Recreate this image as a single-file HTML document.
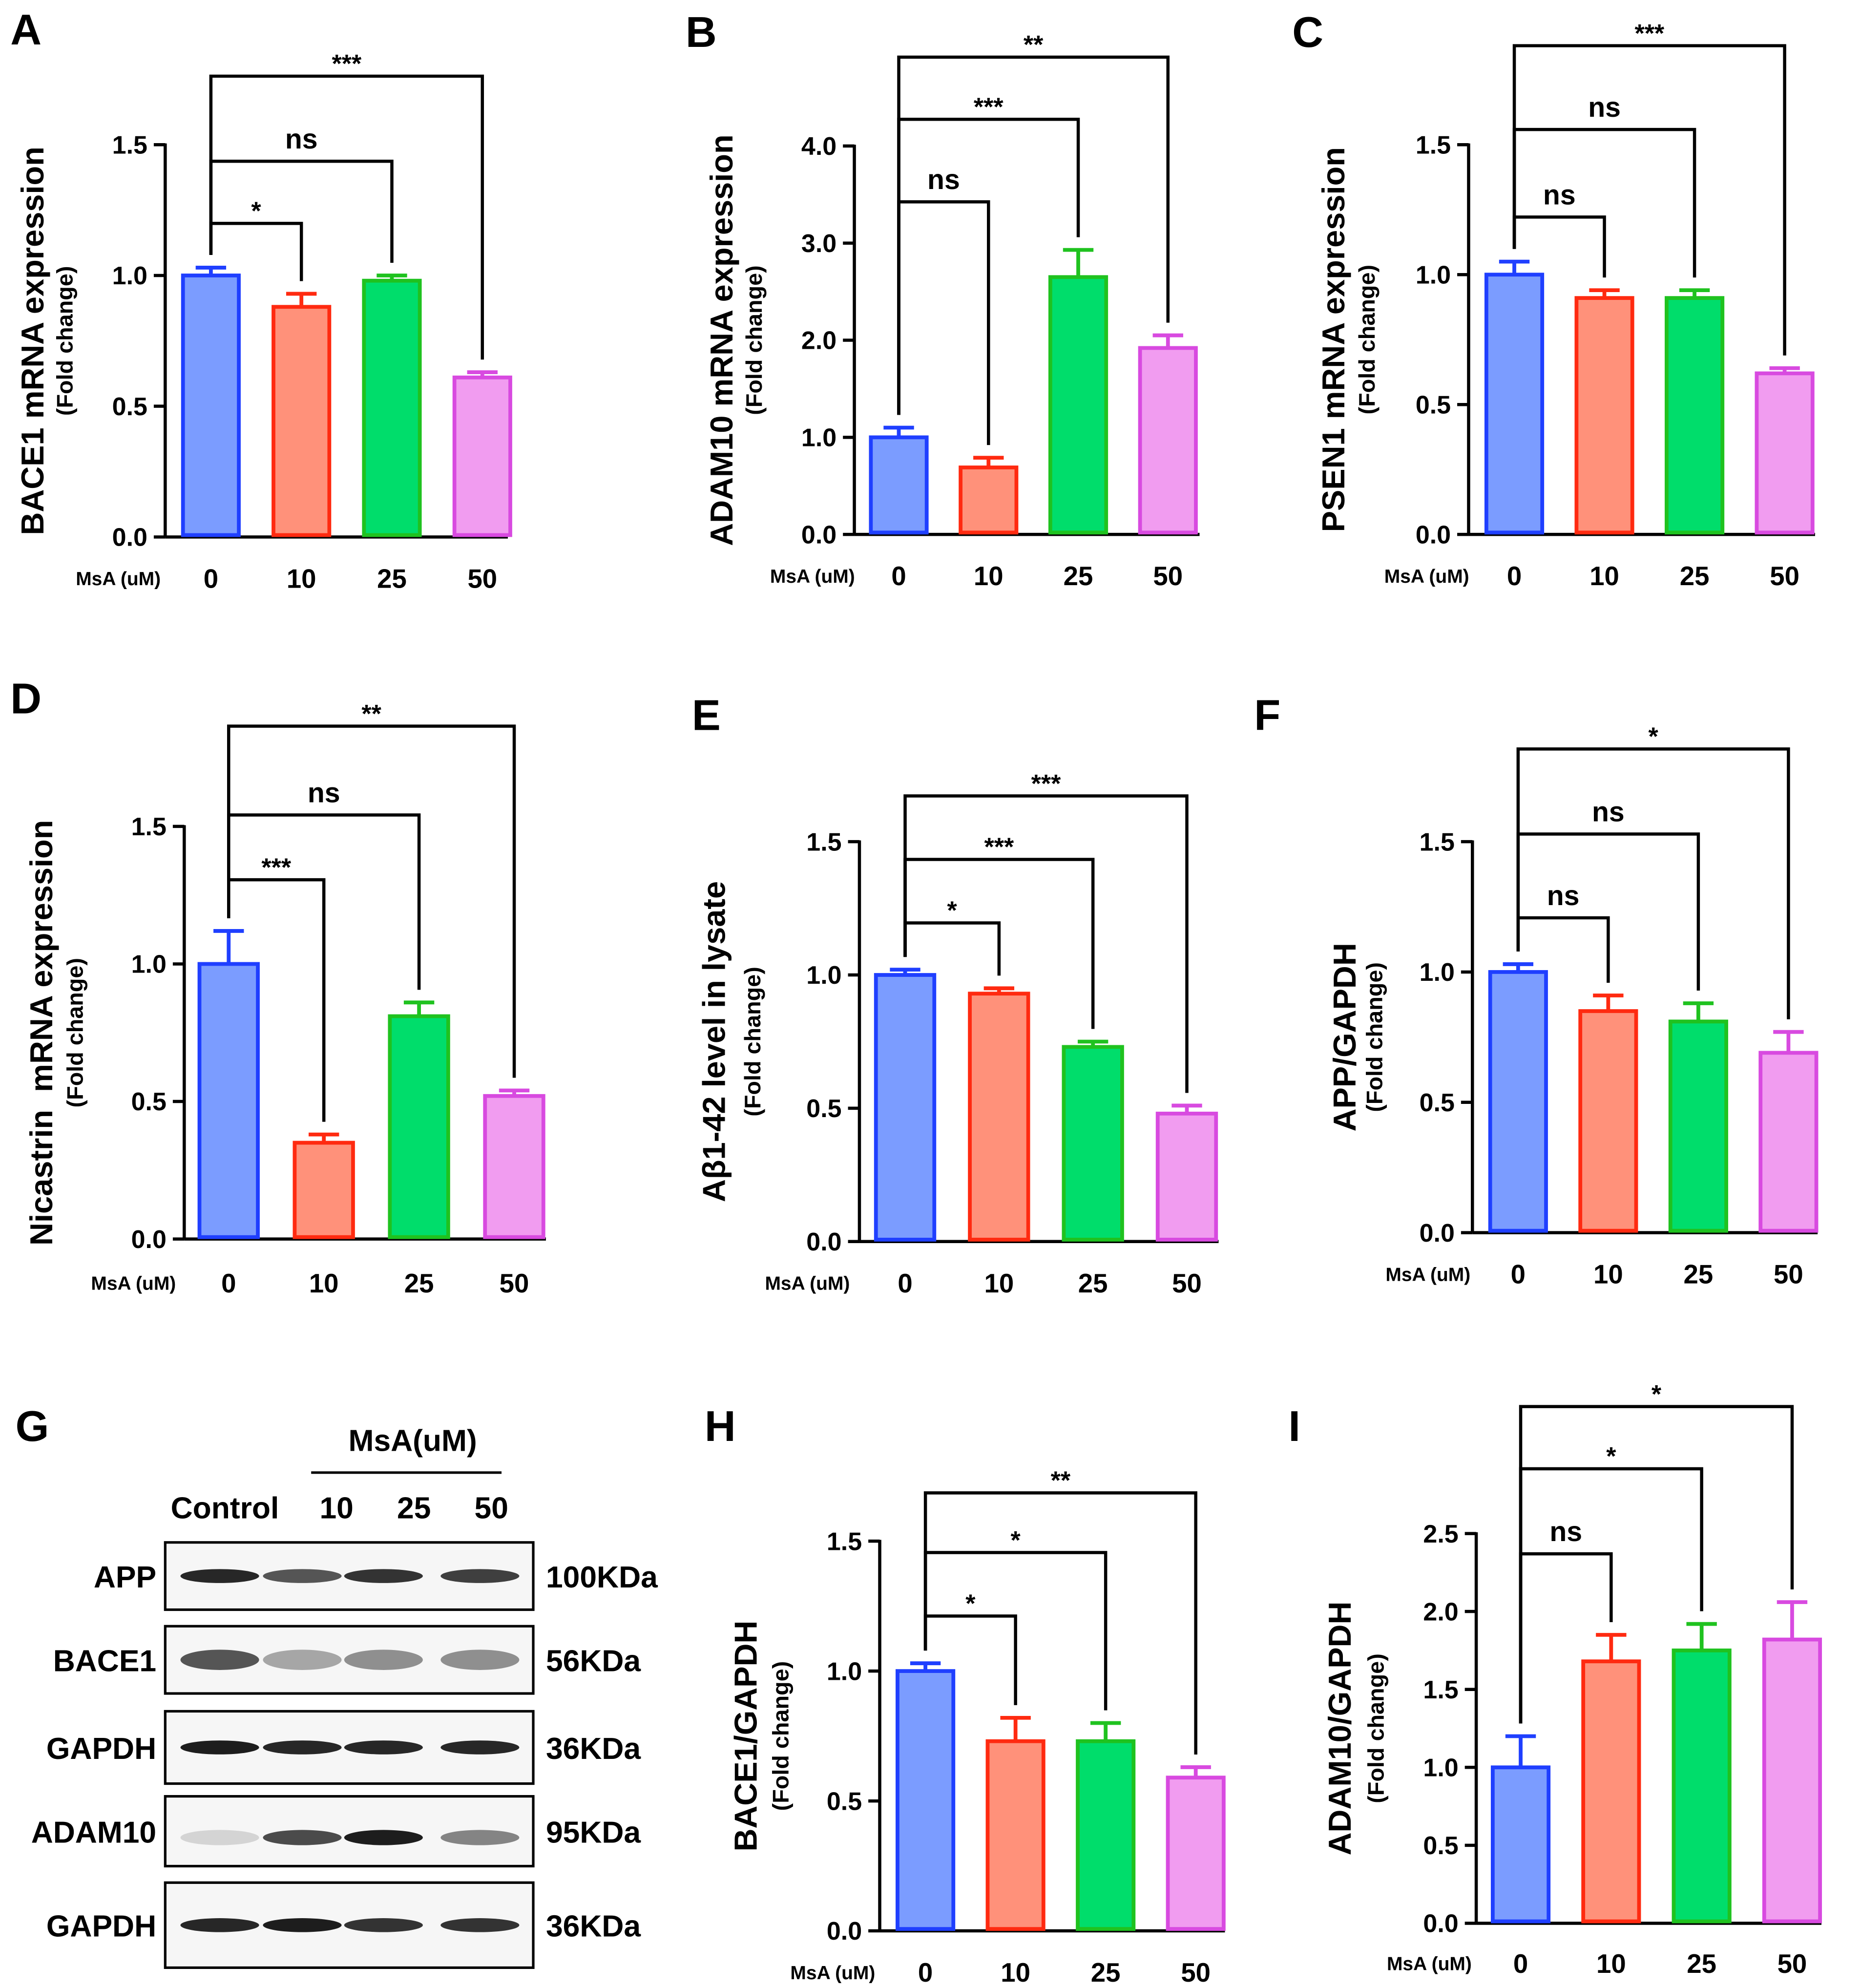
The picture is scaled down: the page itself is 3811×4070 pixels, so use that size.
<!DOCTYPE html>
<html><head><meta charset="utf-8"><style>
html,body{margin:0;padding:0;background:#fff}
svg{display:block}
text{font-family:"Liberation Sans",Arial,sans-serif;font-weight:bold;fill:#000}
</style></head><body>
<svg id="fig" width="3811" height="4070" viewBox="0 0 1466 1566" xmlns="http://www.w3.org/2000/svg"></svg>
<script>
const cats = ["0","10","25","50"];
const valsA = [1.0,0.88,0.98,0.61], errsA = [0.03,0.05,0.02,0.02];
const valsB = [1.0,0.69,2.65,1.92], errsB = [0.1,0.1,0.28,0.13];
const valsC = [1.0,0.91,0.91,0.62], errsC = [0.05,0.03,0.03,0.02];
const valsD = [1.0,0.35,0.81,0.52], errsD = [0.12,0.03,0.05,0.02];
const valsE = [1.0,0.93,0.73,0.48], errsE = [0.02,0.02,0.02,0.03];
const valsF = [1.0,0.85,0.81,0.69], errsF = [0.03,0.06,0.07,0.08];
const valsH = [1.0,0.73,0.73,0.59], errsH = [0.03,0.09,0.07,0.04];
const valsI = [1.0,1.68,1.75,1.82], errsI = [0.2,0.17,0.17,0.24];
const ticks15 = [0,0.5,1.0,1.5];
const ticks4 = [0,1,2,3,4];
const ticks25 = [0,0.5,1.0,1.5,2.0,2.5];
const sigA = ["*","ns","***"], sigB = ["ns","***","**"], sigC = ["ns","ns","***"];
const sigD = ["***","ns","**"], sigE = ["*","***","***"], sigF = ["ns","ns","*"];
const sigH = ["*","*","**"], sigI = ["ns","*","*"];

const fills = ["#7b9cff","#ff917a","#00dd6b","#f19cf0"];
const strokes = ["#1f3fff","#ff2a10","#1fc21f","#d84ae0"];
const NS = "http://www.w3.org/2000/svg";
const svg = document.getElementById("fig");
function mk(tag, attrs, parent, txt){
  const e = document.createElementNS(NS, tag);
  for (const k in attrs) e.setAttribute(k, attrs[k]);
  if (txt !== undefined) e.textContent = txt;
  (parent||svg).appendChild(e); return e;
}

const panels = [
 {id:"a",L:"A",lx:8,ly:35,ax:130,y0:423,ytop:114,tmax:1.5,ticks:ticks15,fmt:1,x0:166,dx:71.3,bw:44,vals:valsA,errs:errsA,sig:sigA,by:[176,127,60],ylab:"BACE1 mRNA expression",ylx:25,fx:50,msx:93,xly:455,xend:400},
 {id:"b",L:"B",lx:540,ly:37,ax:673,y0:421,ytop:115,tmax:4,ticks:ticks4,fmt:1,x0:708,dx:70.7,bw:44,vals:valsB,errs:errsB,sig:sigB,by:[159,94,45],ylab:"ADAM10 mRNA expression",ylx:568,fx:593,msx:640,xly:453,xend:945},
 {id:"c",L:"C",lx:1018,ly:37,ax:1157,y0:421,ytop:114,tmax:1.5,ticks:ticks15,fmt:1,x0:1193,dx:71,bw:44,vals:valsC,errs:errsC,sig:sigC,by:[171,102,36],ylab:"PSEN1 mRNA expression",ylx:1050,fx:1076,msx:1124,xly:453,xend:1430},
 {id:"d",L:"D",lx:8,ly:562,ax:145,y0:976,ytop:651,tmax:1.5,ticks:ticks15,fmt:1,x0:180,dx:75,bw:46,vals:valsD,errs:errsD,sig:sigD,by:[693,642,572],ylab:"Nicastrin\u00a0 mRNA expression",ylx:32,fx:58,msx:105,xly:1010,xend:430},
 {id:"e",L:"E",lx:545,ly:575,ax:677,y0:978,ytop:663,tmax:1.5,ticks:ticks15,fmt:1,x0:713,dx:74,bw:46,vals:valsE,errs:errsE,sig:sigE,by:[727,677,627],ylab:"A\u03b21-42 level in lysate",ylx:562,fx:592,msx:636,xly:1010,xend:960},
 {id:"f",L:"F",lx:988,ly:575,ax:1160,y0:971,ytop:663,tmax:1.5,ticks:ticks15,fmt:1,x0:1196,dx:71,bw:44,vals:valsF,errs:errsF,sig:sigF,by:[723,657,590],ylab:"APP/GAPDH",ylx:1059,fx:1082,msx:1125,xly:1003,xend:1432},
 {id:"h",L:"H",lx:555,ly:1135,ax:693,y0:1521,ytop:1214,tmax:1.5,ticks:ticks15,fmt:1,x0:729,dx:71,bw:44,vals:valsH,errs:errsH,sig:sigH,by:[1273,1223,1176],ylab:"BACE1/GAPDH",ylx:587,fx:614,msx:656,xly:1553,xend:965},
 {id:"i",L:"I",lx:1015,ly:1135,ax:1163,y0:1515,ytop:1208,tmax:2.5,ticks:ticks25,fmt:1,x0:1198,dx:71.3,bw:44,vals:valsI,errs:errsI,sig:sigI,by:[1224,1157,1108],ylab:"ADAM10/GAPDH",ylx:1055,fx:1083,msx:1126,xly:1546,xend:1435}
];

panels.forEach(p=>{
  const g = mk("g",{});
  
  
  const y = v => p.y0 - (v/p.tmax)*(p.y0-p.ytop);
  const x = i => p.x0 + i*p.dx;
  const lt = mk("text",{x:p.lx,y:p.ly,"font-size":34},g,p.L);
  
  
  const ya = mk("line",{x1:p.ax,y1:p.ytop-1,x2:p.ax,y2:p.y0,stroke:"#000","stroke-width":2.5},g);
  
  
  p.ticks.forEach(t=>{
    mk("line",{x1:p.ax-9,y1:y(t),x2:p.ax,y2:y(t),stroke:"#000","stroke-width":2.5},g);
    const tl = mk("text",{x:p.ax-14,y:y(t)+7,"font-size":20,"text-anchor":"end"},g,t.toFixed(p.fmt));
    
    
  });
  const xa = mk("line",{x1:p.ax,y1:p.y0,x2:p.xend,y2:p.y0,stroke:"#000","stroke-width":2.5},g);
  
  
  const ms = mk("text",{x:p.msx,y:p.xly+6,"font-size":15,"text-anchor":"middle"},g,"MsA (uM)");
  
  
  const yl = mk("text",{x:0,y:0,"font-size":25,"text-anchor":"middle",transform:`translate(${p.ylx+9},${(p.y0+p.ytop)/2}) rotate(-90)`},g,p.ylab);
  
  
  const fl = mk("text",{x:0,y:0,"font-size":18,"text-anchor":"middle",transform:`translate(${p.fx+7},${(p.y0+p.ytop)/2}) rotate(-90)`},g,"(Fold change)");
  
  
  cats.forEach((c,i)=>{
    const cx = x(i);
    const top = y(p.vals[i]), et = y(p.vals[i]+p.errs[i]);
    mk("line",{x1:cx,y1:top,x2:cx,y2:et,stroke:strokes[i],"stroke-width":3},g);
    mk("line",{x1:cx-12,y1:et,x2:cx+12,y2:et,stroke:strokes[i],"stroke-width":3},g);
    const b = mk("rect",{x:cx-p.bw/2,y:top,width:p.bw,height:p.y0-top-1.5,fill:fills[i],stroke:strokes[i],"stroke-width":3},g);
    
    
    const xl = mk("text",{x:cx,y:p.xly+8,"font-size":21,"text-anchor":"middle"},g,c);
    
    
  });
  const leftTop = y(p.vals[0]+p.errs[0]) - 10;
  p.sig.forEach((s,k)=>{
    const j = k+1, by = p.by[k];
    const rb = y(p.vals[j]+p.errs[j]) - 10;
    const br = mk("polyline",{points:`${x(0)},${leftTop} ${x(0)},${by} ${x(j)},${by} ${x(j)},${rb}`,fill:"none",stroke:"#000","stroke-width":2.5},g);
    
    
    const mid = (x(0)+x(j))/2;
    const st = mk("text",{x:mid,y:s==="ns"?by-10:by-3,"font-size":s==="ns"?22:20,"text-anchor":"middle"},g,s);
    
    
  });
});

const wg = mk("g",{});


mk("text",{x:12,y:1135,"font-size":34},wg,"G");
mk("text",{x:325,y:1143,"font-size":24,"text-anchor":"middle"},wg,"MsA(uM)");
mk("line",{x1:245,y1:1160,x2:395,y2:1160,stroke:"#000","stroke-width":2},wg);
const laneLabels = ["Control","10","25","50"];
const laneX = [177,265,326,387];
const bandX = [173,238,302,378];
laneLabels.forEach((l,i)=>{ mk("text",{x:laneX[i],y:1196,"font-size":24,"text-anchor":"middle"},wg,l); });
const blots = [
 {n:"APP",kd:"100KDa",y1:1215,y2:1268,ints:[0.9,0.7,0.85,0.8],h:9},
 {n:"BACE1",kd:"56KDa",y1:1281,y2:1334,ints:[0.7,0.35,0.45,0.45],h:14},
 {n:"GAPDH",kd:"36KDa",y1:1348,y2:1405,ints:[0.95,0.9,0.9,0.9],h:9},
 {n:"ADAM10",kd:"95KDa",y1:1415,y2:1470,ints:[0.15,0.75,0.95,0.5],h:10},
 {n:"GAPDH",kd:"36KDa",y1:1483,y2:1550,ints:[0.9,0.95,0.85,0.85],h:9}
];
blots.forEach(b=>{
  const r = mk("rect",{x:130,y:b.y1,width:290,height:b.y2-b.y1,fill:"#f6f6f6",stroke:"#000","stroke-width":2},wg);
  
  
  const cy = (b.y1+b.y2)/2;
  b.ints.forEach((v,i)=>{
    mk("ellipse",{cx:bandX[i],cy:cy+(b.n==="ADAM10"?5:0),rx:31,ry:b.h/2+1,fill:"#111","fill-opacity":v},wg);
  });
  mk("text",{x:123,y:cy+9,"font-size":24,"text-anchor":"end"},wg,b.n);
  mk("text",{x:430,y:cy+9,"font-size":24},wg,b.kd);
});
</script>
</body></html>
